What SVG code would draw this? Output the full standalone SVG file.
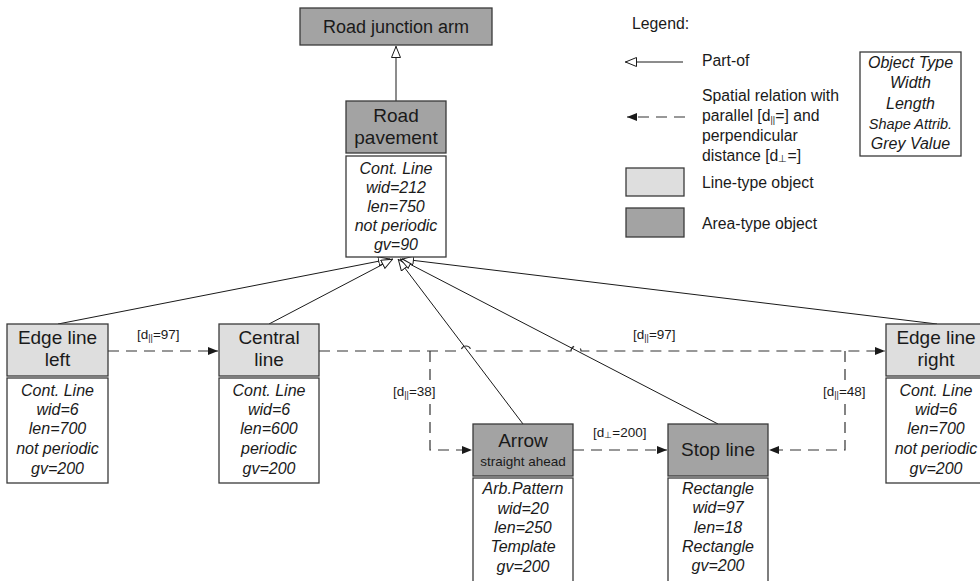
<svg xmlns="http://www.w3.org/2000/svg" width="980" height="581" viewBox="0 0 980 581">
<defs>
<style>
.area{fill:#a3a3a3;stroke:#3a3a3a;stroke-width:1.3}
.linet{fill:#dedede;stroke:#3a3a3a;stroke-width:1.3}
.attr{fill:#fff;stroke:#3a3a3a;stroke-width:1.3}
.t{font-family:"Liberation Sans",Arial,sans-serif;font-size:19px;fill:#1a1a1a;text-anchor:middle}
.a{font-family:"Liberation Sans",Arial,sans-serif;font-size:16px;font-style:italic;fill:#1a1a1a;text-anchor:middle}
.lg{font-family:"Liberation Sans",Arial,sans-serif;font-size:15.8px;fill:#1a1a1a}
.lb{font-family:"Liberation Sans",Arial,sans-serif;font-size:13.5px;fill:#1a1a1a}
.sub{font-size:9px}
.part{stroke:#1a1a1a;stroke-width:1;fill:none}
.dash{stroke:#333;stroke-width:1.2;fill:none;stroke-dasharray:11 7}
</style>
<marker id="hollow" viewBox="0 0 12 10" refX="12" refY="5" markerWidth="12" markerHeight="10" markerUnits="userSpaceOnUse" orient="auto">
<path d="M0.5,0.5 L11.5,5 L0.5,9.5 z" fill="#fff" stroke="#1a1a1a" stroke-width="1"/>
</marker>
<marker id="filled" viewBox="0 0 10 8" refX="10" refY="4" markerWidth="10" markerHeight="8" markerUnits="userSpaceOnUse" orient="auto">
<path d="M0,0 L10,4 L0,8 z" fill="#1a1a1a"/>
</marker>
</defs>
<rect width="980" height="581" fill="#fff"/>

<g id="connectors">
<line class="part" x1="396" y1="101" x2="396" y2="46" marker-end="url(#hollow)"/>
<line class="part" x1="58" y1="324" x2="390" y2="259" marker-end="url(#hollow)"/>
<line class="part" x1="269" y1="324" x2="393" y2="259" marker-end="url(#hollow)"/>
<line class="part" x1="523" y1="424" x2="398" y2="259" marker-end="url(#hollow)"/>
<line class="part" x1="718" y1="424" x2="400" y2="259" marker-end="url(#hollow)"/>
<line class="part" x1="937" y1="324" x2="402" y2="259" marker-end="url(#hollow)"/>

<line class="dash" x1="108" y1="351" x2="218" y2="351" marker-end="url(#filled)"/>
<path class="dash" d="M319,351 H461 a5,5 0 0 1 10,0 H571 a5,5 0 0 1 10,0 H885" marker-end="url(#filled)"/>
<path class="dash" d="M430,351 V382"/>
<path class="dash" d="M430,404 V450 H472" marker-end="url(#filled)"/>
<line class="dash" x1="573" y1="450" x2="667" y2="450" marker-end="url(#filled)"/>
<path class="dash" d="M845,351 V382"/>
<path class="dash" d="M845,404 V450 H769" marker-end="url(#filled)"/>

<text class="lb" x="137" y="339">[d<tspan class="sub" dy="2">||</tspan><tspan dy="-2">=97]</tspan></text>
<text class="lb" x="633" y="339">[d<tspan class="sub" dy="2">||</tspan><tspan dy="-2">=97]</tspan></text>
<text class="lb" x="393" y="396">[d<tspan class="sub" dy="2">||</tspan><tspan dy="-2">=38]</tspan></text>
<text class="lb" x="823" y="396">[d<tspan class="sub" dy="2">||</tspan><tspan dy="-2">=48]</tspan></text>
<text class="lb" x="593" y="437">[d<tspan class="sub" dy="1">⊥</tspan><tspan dy="-1">=200]</tspan></text>
</g>

<g id="road-junction-arm">
<rect class="area" x="300" y="8" width="192" height="37"/>
<text class="t" x="396" y="33" style="font-size:18px">Road junction arm</text>
</g>

<g id="road-pavement">
<rect class="area" x="346" y="101" width="100" height="52"/>
<text class="t" x="396" y="122">Road</text>
<text class="t" x="396" y="144">pavement</text>
<rect class="attr" x="346" y="156" width="100" height="101"/>
<text class="a" x="396" y="174">Cont. Line</text>
<text class="a" x="396" y="193">wid=212</text>
<text class="a" x="396" y="212">len=750</text>
<text class="a" x="396" y="231">not periodic</text>
<text class="a" x="396" y="250">gv=90</text>
</g>

<g id="edge-line-left">
<rect class="linet" x="7" y="324" width="101" height="52"/>
<text class="t" x="57.5" y="344">Edge line</text>
<text class="t" x="57.5" y="366">left</text>
<rect class="attr" x="7" y="378" width="101" height="105"/>
<text class="a" x="57.5" y="396">Cont. Line</text>
<text class="a" x="57.5" y="415">wid=6</text>
<text class="a" x="57.5" y="434">len=700</text>
<text class="a" x="57.5" y="454">not periodic</text>
<text class="a" x="57.5" y="474">gv=200</text>
</g>

<g id="central-line">
<rect class="linet" x="219" y="324" width="100" height="52"/>
<text class="t" x="269" y="344">Central</text>
<text class="t" x="269" y="366">line</text>
<rect class="attr" x="219" y="378" width="100" height="105"/>
<text class="a" x="269" y="396">Cont. Line</text>
<text class="a" x="269" y="415">wid=6</text>
<text class="a" x="269" y="434">len=600</text>
<text class="a" x="269" y="454">periodic</text>
<text class="a" x="269" y="474">gv=200</text>
</g>

<g id="arrow-straight-ahead">
<rect class="area" x="473" y="424" width="100" height="52"/>
<text class="t" x="523" y="447">Arrow</text>
<text class="t" x="523" y="466" style="font-size:13.5px">straight ahead</text>
<rect class="attr" x="473" y="478" width="100" height="112"/>
<text class="a" x="523" y="494">Arb.Pattern</text>
<text class="a" x="523" y="514">wid=20</text>
<text class="a" x="523" y="533">len=250</text>
<text class="a" x="523" y="552">Template</text>
<text class="a" x="523" y="572">gv=200</text>
</g>

<g id="stop-line">
<rect class="area" x="668" y="424" width="100" height="52"/>
<text class="t" x="718" y="456">Stop line</text>
<rect class="attr" x="668" y="478" width="100" height="112"/>
<text class="a" x="718" y="494">Rectangle</text>
<text class="a" x="718" y="513">wid=97</text>
<text class="a" x="718" y="533">len=18</text>
<text class="a" x="718" y="552">Rectangle</text>
<text class="a" x="718" y="571">gv=200</text>
</g>

<g id="edge-line-right">
<rect class="linet" x="886" y="324" width="100" height="52"/>
<text class="t" x="936" y="344">Edge line</text>
<text class="t" x="936" y="366">right</text>
<rect class="attr" x="886" y="378" width="100" height="105"/>
<text class="a" x="936" y="396">Cont. Line</text>
<text class="a" x="936" y="415">wid=6</text>
<text class="a" x="936" y="434">len=700</text>
<text class="a" x="936" y="454">not periodic</text>
<text class="a" x="936" y="474">gv=200</text>
</g>

<g id="legend">
<text class="lg" x="632" y="29">Legend:</text>
<line class="part" x1="683" y1="62" x2="625" y2="62" marker-end="url(#hollow)"/>
<text class="lg" x="702" y="66">Part-of</text>
<line class="dash" x1="685" y1="117" x2="627" y2="117" marker-end="url(#filled)"/>
<text class="lg" x="702" y="101">Spatial relation with</text>
<text class="lg" x="702" y="121">parallel [d<tspan style="font-size:9px" dy="2">||</tspan><tspan dy="-2">=] and</tspan></text>
<text class="lg" x="702" y="141">perpendicular</text>
<text class="lg" x="702" y="161">distance  [d<tspan style="font-size:10px" dy="1">⊥</tspan><tspan dy="-1">=]</tspan></text>
<rect class="linet" x="626" y="168" width="58" height="28"/>
<text class="lg" x="702" y="188">Line-type object</text>
<rect class="area" x="626" y="208" width="58" height="29"/>
<text class="lg" x="702" y="229">Area-type object</text>
<rect class="attr" x="860" y="52" width="101" height="104"/>
<text class="a" x="910.5" y="68">Object Type</text>
<text class="a" x="910.5" y="88">Width</text>
<text class="a" x="910.5" y="109">Length</text>
<text class="a" x="910.5" y="129" style="font-size:14.5px">Shape Attrib.</text>
<text class="a" x="910.5" y="149">Grey Value</text>
</g>
</svg>
